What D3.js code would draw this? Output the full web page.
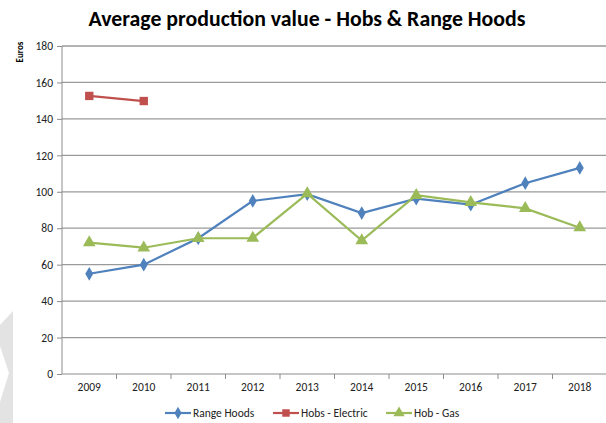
<!DOCTYPE html>
<html><head><meta charset="utf-8">
<script src="https://cdn.jsdelivr.net/npm/d3@7"></script>
<style>body{margin:0;background:#fff}svg{display:block}</style>
</head><body><svg id="c" width="606" height="423"></svg>
<script>
const years = ["2009","2010","2011","2012","2013","2014","2015","2016","2017","2018"];
const rangeHoods = [55, 60, 74.5, 95, 98.7, 88.3, 96.2, 92.9, 104.7, 113.1];
const hobsElectric = [152.6, 149.8, null, null, null, null, null, null, null, null];
const hobGas = [72.1, 69.3, 74.5, 74.6, 99, 73.2, 98.1, 94.2, 90.9, 80.3];
const yTicks = [0,20,40,60,80,100,120,140,160,180];
const seriesNames = ["Range Hoods","Hobs - Electric","Hob - Gas"];

const svg = d3.select("#c");
const font = "Calibri, Carlito, 'Liberation Sans', Arial, sans-serif";

// decorative watermark shape
svg.append("path").attr("d","M0,325 L13,311 L13,423 L0,423 L0,402 L9,373 L0,346 Z").attr("fill","#e3e3e3");

const x = d3.scaleBand().domain(years).range([62,607]);
const y = d3.scaleLinear().domain([0,180]).range([374,46]);

// gridlines
svg.append("g").selectAll("line").data(yTicks.slice(1)).join("line")
  .attr("x1",62).attr("x2",606).attr("y1",d=>y(d)).attr("y2",d=>y(d))
  .attr("stroke","#9a9a9a").attr("stroke-width",1.3);

// y axis
const ya = svg.append("g").attr("transform","translate(62,0)")
  .call(d3.axisLeft(y).tickValues(yTicks).tickSize(5).tickPadding(4));
ya.select(".domain").attr("stroke","#8c8c8c").attr("d","M0,46V374");
ya.selectAll(".tick line").attr("stroke","#8c8c8c");
ya.selectAll("text").attr("font-family",font).attr("font-size",11.5).attr("fill","#222");

// x axis
const xa = svg.append("g").attr("transform","translate(0,374)")
  .call(d3.axisBottom(x).tickSize(0).tickPadding(9));
xa.select(".domain").attr("stroke","#8c8c8c").attr("d","M62,0H606");
xa.selectAll("text").attr("font-family",font).attr("font-size",11.5).attr("fill","#222");
svg.append("g").selectAll("line").data(years).join("line")
  .attr("x1",d=>x(d)+x.bandwidth()).attr("x2",d=>x(d)+x.bandwidth())
  .attr("y1",374).attr("y2",379).attr("stroke","#8c8c8c");

const cx = d => x(d)+x.bandwidth()/2;
const line = d3.line().defined(d=>d.v!=null).x(d=>cx(d.k)).y(d=>y(d.v));

const series = [
  {name:seriesNames[0], vals:rangeHoods, color:"#4F81BD", sym:d3.symbolDiamond, size:55},
  {name:seriesNames[1], vals:hobsElectric, color:"#C0504D", sym:d3.symbolSquare, size:70},
  {name:seriesNames[2], vals:hobGas, color:"#9BBB59", sym:d3.symbolTriangle, size:70}
];
series.forEach(s=>{
  const pts = years.map((k,i)=>({k, v:s.vals[i]}));
  svg.append("path").datum(pts).attr("d",line).attr("fill","none")
    .attr("stroke",s.color).attr("stroke-width",2.2);
  svg.append("g").selectAll("path").data(pts.filter(p=>p.v!=null)).join("path")
    .attr("d",d3.symbol().type(s.sym).size(s.size))
    .attr("transform",d=>`translate(${cx(d.k)},${y(d.v)})`).attr("fill",s.color);
});

// title
svg.append("text").attr("x",307).attr("y",26).attr("text-anchor","middle")
  .attr("font-family",font).attr("font-size",21.8).attr("font-weight","bold").attr("fill","#000")
  .text("Average production value - Hobs & Range Hoods");

// y label
svg.append("text").attr("transform","translate(23,52) rotate(-90)").attr("text-anchor","middle")
  .attr("font-family",font).attr("font-size",9).attr("font-weight","bold").text("Euros");

// legend
const legX = [165, 273, 386];
const lg = svg.append("g").selectAll("g").data(series).join("g")
  .attr("transform",(d,i)=>`translate(${legX[i]},413)`);
lg.append("line").attr("x1",0).attr("x2",26).attr("stroke",d=>d.color).attr("stroke-width",2.2);
lg.append("path").attr("d",d=>d3.symbol().type(d.sym).size(d.size*0.8)()).attr("transform","translate(13,0)").attr("fill",d=>d.color);
lg.append("text").attr("x",28).attr("y",4).attr("font-family",font).attr("font-size",11.5).attr("fill","#222").text(d=>d.name);
</script></body></html>
